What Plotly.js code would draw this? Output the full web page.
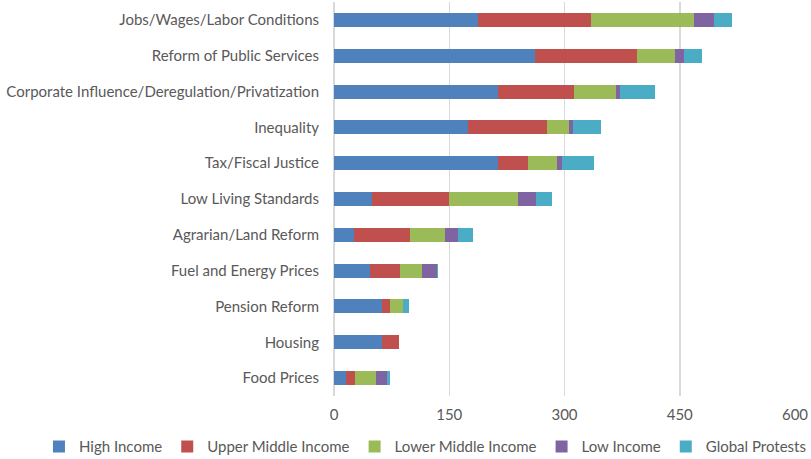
<!DOCTYPE html>
<html><head><meta charset="utf-8">
<script src="https://cdn.plot.ly/plotly-3.0.1.min.js"></script>
<style>html,body{margin:0;padding:0;background:#fff}#chart{width:811px;height:459px}</style>
</head><body><div id="chart"></div>
<script>
const categories = ["Jobs/Wages/Labor Conditions","Reform of Public Services","Corporate Influence/Deregulation/Privatization","Inequality","Tax/Fiscal Justice","Low Living Standards","Agrarian/Land Reform","Fuel and Energy Prices","Pension Reform","Housing","Food Prices"];
const highIncome        = [187, 261, 214, 174, 213, 49, 26, 47, 63, 62, 16];
const upperMiddleIncome = [147, 134,  99, 103,  40, 101, 73, 39, 10, 22, 11];
const lowerMiddleIncome = [134,  49,  54,  29,  37, 90, 46, 28, 17, 1, 28];
const lowIncome         = [ 26,  11,   5,   5,   7, 23, 17, 20, 0, 0, 14];
const globalProtests    = [ 24,  24,  46,  36,  42, 21, 19, 2, 7, 0, 4];
const seriesNames = ["High Income","Upper Middle Income","Lower Middle Income","Low Income","Global Protests"];
const colors = ["#4F81BD","#C0504D","#9BBB59","#8064A2","#4BACC6"];
const tickVals = [0,150,300,450,600];

const series = [highIncome, upperMiddleIncome, lowerMiddleIncome, lowIncome, globalProtests];
const data = series.map((vals,i)=>({
  type:'bar', orientation:'h', name:seriesNames[i], x:vals, y:categories,
  marker:{color:colors[i], line:{width:0}}, hoverinfo:'x+name'
}));
const font = {family:'Lato, "Open Sans", sans-serif', size:15, color:'#595959'};
const layout = {
  width:811, height:459, barmode:'stack', bargap:0.61,
  margin:{l:334, r:16, t:2, b:63, autoexpand:false},
  paper_bgcolor:'#fff', plot_bgcolor:'#fff', font:font,
  xaxis:{range:[0,600], tickvals:tickVals, showgrid:true, gridcolor:'#d9d9d9', gridwidth:1.5,
         zeroline:true, zerolinecolor:'#d9d9d9', zerolinewidth:1.5, ticks:'', ticklabelstandoff:8, tickfont:font, fixedrange:true, automargin:false},
  yaxis:{type:'category', autorange:'reversed', showgrid:false, zeroline:false, ticks:'', ticklabelstandoff:14, tickfont:font, fixedrange:true, automargin:false},
  showlegend:true,
  legend:{orientation:'h', x:-0.64, xanchor:'left', y:-0.129, yanchor:'middle', font:font, traceorder:'normal', itemwidth:30}
};
Plotly.newPlot('chart', data, layout, {displayModeBar:false, staticPlot:true});
</script></body></html>
